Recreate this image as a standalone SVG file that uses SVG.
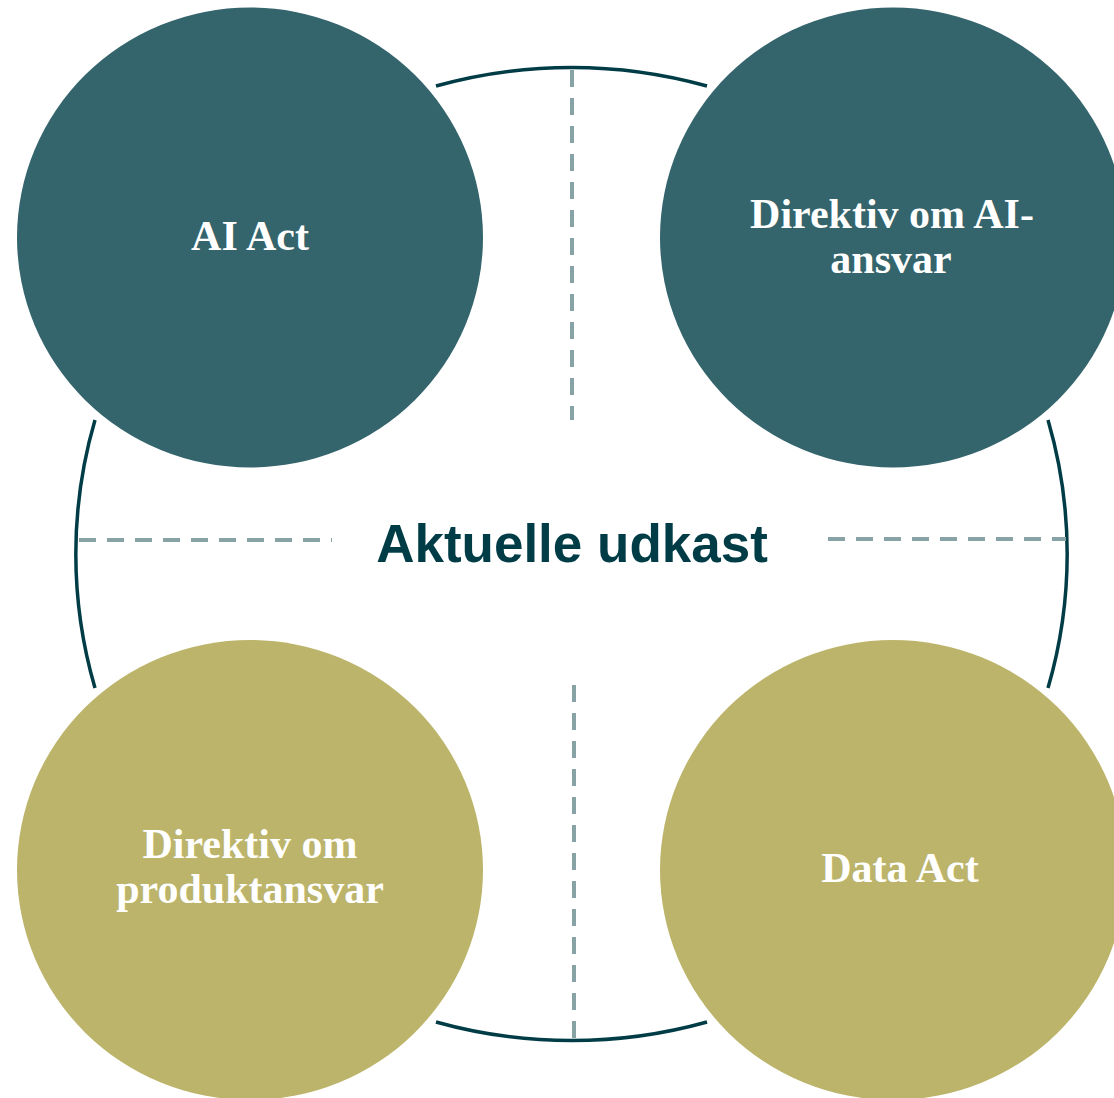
<svg xmlns="http://www.w3.org/2000/svg" width="1114" height="1098" viewBox="0 0 1114 1098">
  <style>
    .arc { fill: none; stroke: #003C46; stroke-width: 3.5; }
    .dash { fill: none; stroke: #87A3A6; stroke-width: 4; stroke-dasharray: 17 11; }
    .teal { fill: #34646C; }
    .olive { fill: #BCB46A; }
    .lbl { font-family: "Liberation Serif", "Times New Roman", serif; font-weight: bold; font-size: 42px; fill: #FFFFFF; text-anchor: middle; }
    .center { font-family: "Liberation Sans", Arial, sans-serif; font-weight: bold; font-size: 53px; fill: #003C46; text-anchor: middle; }
  </style>
  <rect width="1114" height="1098" fill="#FFFFFF"/>
  <g id="connectors">
    <path class="arc" d="M 436 86 A 495 486 0 0 1 707 86"/>
    <path class="arc" d="M 1048 420 A 495 486 0 0 1 1048 688"/>
    <path class="arc" d="M 707 1022 A 495 486 0 0 1 436 1022"/>
    <path class="arc" d="M 95 688 A 495 486 0 0 1 95 420"/>
    <line class="dash" x1="572" y1="70" x2="572" y2="420"/>
    <line class="dash" x1="574" y1="685" x2="574" y2="1038"/>
    <line class="dash" x1="79" y1="540" x2="332" y2="540"/>
    <line class="dash" x1="828" y1="539" x2="1066" y2="539"/>
  </g>
  <g id="center-label">
    <text class="center" x="572" y="562">Aktuelle udkast</text>
  </g>
  <g id="node-ai-act">
    <ellipse class="teal" cx="250" cy="237.5" rx="233" ry="230"/>
    <text class="lbl" x="250" y="250">AI Act</text>
  </g>
  <g id="node-ai-ansvar">
    <ellipse class="teal" cx="893" cy="237.5" rx="233" ry="230"/>
    <text class="lbl" x="892" y="228">Direktiv om AI-</text>
    <text class="lbl" x="891" y="273">ansvar</text>
  </g>
  <g id="node-produktansvar">
    <ellipse class="olive" cx="250" cy="870" rx="233" ry="230"/>
    <text class="lbl" x="250" y="858">Direktiv om</text>
    <text class="lbl" x="250" y="903">produktansvar</text>
  </g>
  <g id="node-data-act">
    <ellipse class="olive" cx="893" cy="870" rx="233" ry="230"/>
    <text class="lbl" x="900" y="882">Data Act</text>
  </g>
</svg>
